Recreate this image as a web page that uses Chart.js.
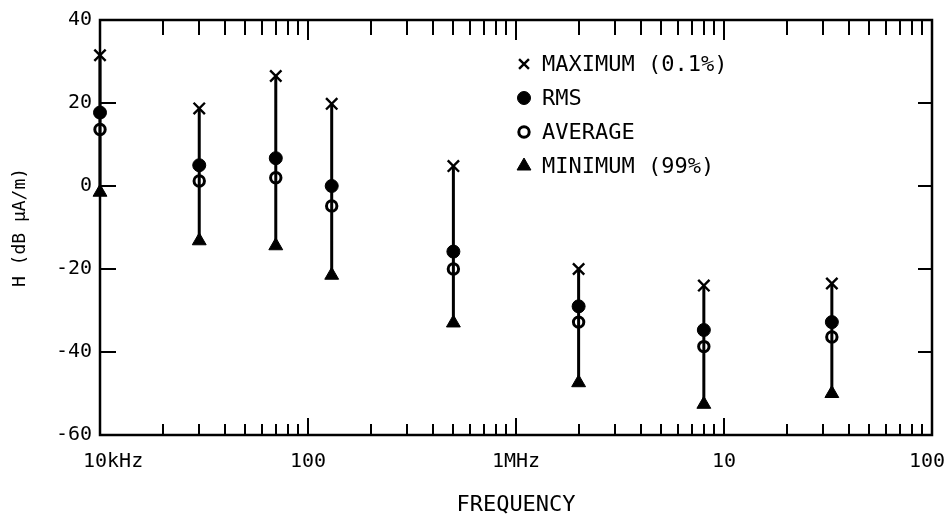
<!DOCTYPE html>
<html lang="en">
<head>
    <meta charset="UTF-8">
    <title>H field vs frequency</title>
    <script src="https://cdn.jsdelivr.net/npm/chart.js"></script>
    <style>
        html, body { margin: 0; padding: 0; background: #fff; }
        #wrap { width: 947px; height: 519px; }
    </style>
</head>
<body>
    <div id="wrap"><canvas id="grafico" width="947" height="519"></canvas></div>

    <script>
        // frequencies (Hz) and levels (dB uA/m)
        const freqs   = [1e4, 3e4, 7e4, 1.3e5, 5e5, 2e6, 8e6, 3.3e7];
        const maxVals = [31.5, 18.7, 26.5, 19.8, 4.8, -20, -24, -23.5];
        const rmsVals = [17.7, 5.0, 6.7, 0, -15.8, -29, -34.7, -32.8];
        const avgVals = [13.6, 1.2, 2.0, -4.8, -20, -32.8, -38.7, -36.4];
        const minVals = [-1.5, -13.2, -14.4, -21.5, -33, -47.4, -52.6, -50];

        // x axis labels at each decade
        const decadeValues = [1e4, 1e5, 1e6, 1e7, 1e8];
        const decadeLabels = ['10kHz', '100', '1MHz', '10', '100'];
        const yTicks = [-60, -40, -20, 0, 20, 40];

        const legendNames = ['MAXIMUM (0.1%)', 'RMS', 'AVERAGE', 'MINIMUM (99%)'];

        const FONT = "'DejaVu Sans Mono', monospace";

        // every 1..9 x decade for the minor ticks
        const logTicks = [];
        for (let d = 0; d < 4; d++) {
            for (let m = 1; m < 10; m++) logTicks.push(decadeValues[d] * m);
        }
        logTicks.push(1e8);

        function pts(vals) {
            return freqs.map((f, i) => ({ x: f, y: vals[i] }));
        }

        // vertical bars min..max, separated by gaps
        const whisker = [];
        freqs.forEach((f, i) => {
            whisker.push({ x: f, y: maxVals[i] });
            whisker.push({ x: f, y: minVals[i] });
            whisker.push({ x: f, y: null });
        });

        const markerStyles = [
            { pointStyle: 'crossRot', radius: 8, borderWidth: 2.4, bg: '#000' },
            { pointStyle: 'circle', radius: 6.5, borderWidth: 1, bg: '#000' },
            { pointStyle: 'circle', radius: 5.2, borderWidth: 3, bg: '#fff' },
            { pointStyle: 'triangle', radius: 8, borderWidth: 1, bg: '#000' }
        ];
        const seriesVals = [maxVals, rmsVals, avgVals, minVals];

        const datasets = [{
            label: 'range',
            data: whisker,
            showLine: true,
            spanGaps: false,
            borderColor: '#000',
            borderWidth: 3,
            pointRadius: 0,
            clip: false
        }];
        seriesVals.forEach((vals, k) => {
            const s = markerStyles[k];
            datasets.push({
                label: legendNames[k],
                data: pts(vals),
                showLine: false,
                pointStyle: s.pointStyle,
                pointRadius: s.radius,
                pointBorderWidth: s.borderWidth,
                pointBackgroundColor: s.bg,
                pointBorderColor: '#000',
                clip: false
            });
        });

        // frame, inward ticks, decade labels and legend
        const framePlugin = {
            id: 'frame',
            afterDatasetsDraw(chart) {
                const ctx = chart.ctx;
                const a = chart.chartArea;
                const xs = chart.scales.x;
                const ys = chart.scales.y;
                const W = chart.width;
                ctx.save();
                ctx.strokeStyle = '#000';
                ctx.lineWidth = 2.5;
                ctx.strokeRect(a.left, a.top, a.right - a.left, a.bottom - a.top);

                ctx.lineWidth = 2;
                ctx.beginPath();
                logTicks.forEach(v => {
                    if (v <= 1e4 || v >= 1e8) return;
                    const x = Math.round(xs.getPixelForValue(v));
                    const major = decadeValues.includes(v);
                    ctx.moveTo(x, a.bottom);
                    ctx.lineTo(x, a.bottom - (major ? 17 : 11));
                    ctx.moveTo(x, a.top);
                    ctx.lineTo(x, a.top + (major ? 20 : 15));
                });
                yTicks.forEach(v => {
                    if (v <= -60 || v >= 40) return;
                    const y = Math.round(ys.getPixelForValue(v));
                    ctx.moveTo(a.left, y);
                    ctx.lineTo(a.left + 16, y);
                    ctx.moveTo(a.right, y);
                    ctx.lineTo(a.right - 14, y);
                });
                ctx.stroke();

                // decade labels, kept inside the picture at both ends
                ctx.font = '20px ' + FONT;
                ctx.textBaseline = 'middle';
                ctx.textAlign = 'left';
                ctx.fillStyle = '#000';
                decadeValues.forEach((v, i) => {
                    const txt = decadeLabels[i];
                    const w = ctx.measureText(txt).width;
                    let x0 = xs.getPixelForValue(v) - w / 2;
                    x0 = Math.max(x0, a.left - 17);
                    x0 = Math.min(x0, W - 2 - w);
                    ctx.fillText(txt, x0, a.bottom + 27);
                });

                // legend inside the plot
                ctx.font = '22px ' + FONT;
                legendNames.forEach((name, k) => {
                    const s = markerStyles[k];
                    const y = 64 + k * 34;
                    ctx.fillStyle = s.bg;
                    ctx.strokeStyle = '#000';
                    ctx.lineWidth = s.borderWidth;
                    Chart.helpers.drawPoint(ctx, {
                        pointStyle: s.pointStyle,
                        radius: s.pointStyle === 'crossRot' ? 7 : s.radius,
                        rotation: 0,
                        borderWidth: s.borderWidth
                    }, 524, y);
                    ctx.fillStyle = '#000';
                    ctx.fillText(name, 542, y + 1);
                });
                ctx.restore();
            }
        };

        const ctx = document.getElementById('grafico').getContext('2d');
        const grafico = new Chart(ctx, {
            type: 'scatter',
            data: { datasets: datasets },
            options: {
                responsive: false,
                animation: false,
                layout: { padding: { top: 17, right: 15, left: 0, bottom: 0 } },
                plugins: {
                    legend: { display: false },
                    tooltip: { enabled: false }
                },
                scales: {
                    x: {
                        type: 'logarithmic',
                        min: 1e4,
                        max: 1e8,
                        afterBuildTicks: scale => {
                            scale.ticks = logTicks.map(v => ({ value: v }));
                        },
                        afterFit: scale => {
                            scale.height = 84;
                            scale.paddingLeft = 0;
                            scale.paddingRight = 0;
                        },
                        grid: { display: false, drawTicks: false },
                        border: { display: false },
                        ticks: { display: false },
                        title: {
                            display: true,
                            text: 'FREQUENCY',
                            color: '#000',
                            font: { family: FONT, size: 22 },
                            padding: { top: 0, bottom: 1 }
                        }
                    },
                    y: {
                        min: -60,
                        max: 40,
                        afterBuildTicks: scale => {
                            scale.ticks = yTicks.map(v => ({ value: v }));
                        },
                        afterFit: scale => { scale.width = 100; },
                        grid: { display: false, drawTicks: false },
                        border: { display: false },
                        ticks: {
                            padding: 8,
                            color: '#000',
                            font: { family: FONT, size: 20 }
                        },
                        title: {
                            display: true,
                            text: 'H (dB μA/m)',
                            color: '#000',
                            font: { family: FONT, size: 18 },
                            padding: { top: 10, bottom: 0 }
                        }
                    }
                }
            },
            plugins: [framePlugin]
        });
    </script>
</body>
</html>
